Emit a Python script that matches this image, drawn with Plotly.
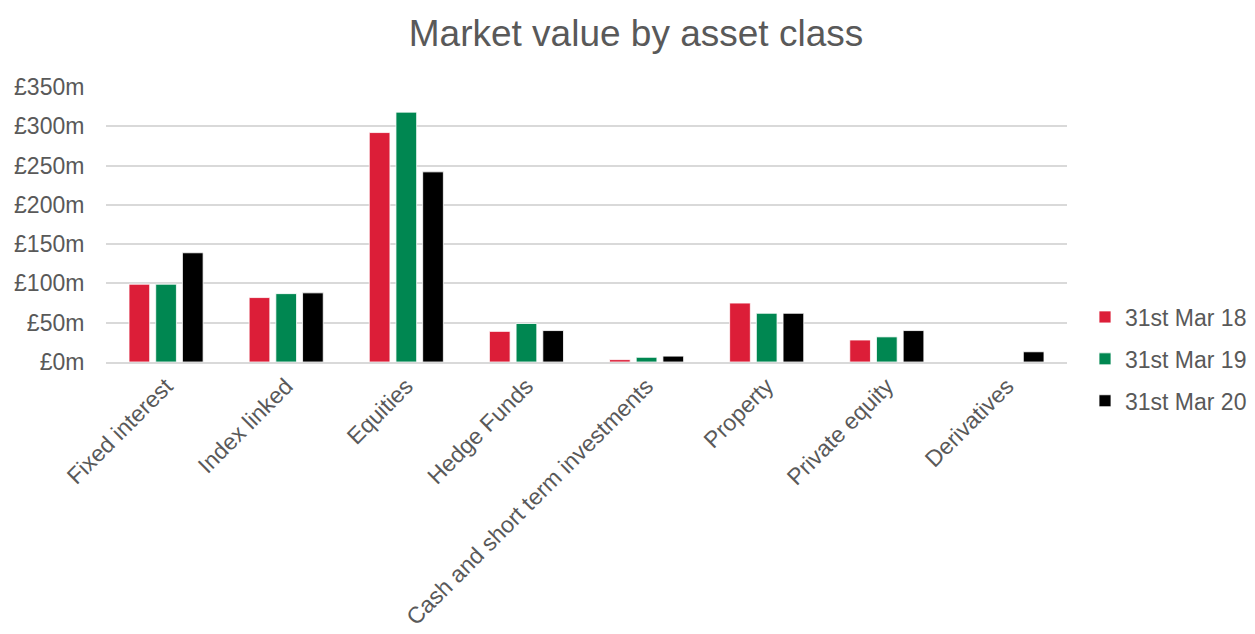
import plotly.graph_objects as go

categories = ["Fixed interest", "Index linked", "Equities", "Hedge Funds",
              "Cash and short term investments", "Property", "Private equity", "Derivatives"]
mar18 = [99, 82, 292, 39, 3, 75, 28, 0]
mar19 = [99, 87, 318, 49, 6, 62, 32, 0]
mar20 = [139, 88, 242, 40, 7.5, 62, 40, 13]
series_names = ["31st Mar 18", "31st Mar 19", "31st Mar 20"]
series_colors = ["#DC1E38", "#008751", "#000000"]
y_ticks = [0, 50, 100, 150, 200, 250, 300, 350]
y_tick_labels = ["£0m", "£50m", "£100m", "£150m", "£200m", "£250m", "£300m", "£350m"]

font_family = "Liberation Sans, Arial, sans-serif"
grey = "#595959"

W, H = 1247, 626  # page has an 8px body margin

fig = go.Figure()
for name, vals, col in zip(series_names, [mar18, mar19, mar20], series_colors):
    fig.add_trace(go.Bar(
        x=categories, y=vals, name=name, legendgroup=name,
        marker=dict(color=col, line=dict(color="white", width=0.8)),
    ))

fig.update_layout(
    width=W, height=H,
    margin=dict(l=98, r=188, t=79, b=272, autoexpand=False),
    paper_bgcolor="white", plot_bgcolor="white",
    barmode="group", bargap=0.333, bargroupgap=0.225,
    font=dict(family=font_family, color=grey, size=23),
    title=dict(text="Market value by asset class", x=628 / W, xref="container", xanchor="center",
               y=1 - 25 / H, yref="container", yanchor="middle",
               font=dict(size=37, color=grey, family=font_family)),
    legend=dict(x=1077 / W, xref="container", xanchor="left",
                y=1 - 351 / H, yref="container", yanchor="middle",
                font=dict(size=23, color=grey), traceorder="grouped", tracegroupgap=9,
                bgcolor="rgba(0,0,0,0)"),
    showlegend=True,
)
fig.update_xaxes(tickangle=-45, showgrid=False, showline=True, linecolor="#d9d9d9", linewidth=1.5,
                 ticks="", tickfont=dict(size=23, color=grey), automargin=False)
fig.update_yaxes(range=[0, 350], tickvals=y_ticks, ticktext=y_tick_labels,
                 showgrid=True, gridcolor="#d9d9d9", gridwidth=1.5, zeroline=False,
                 ticks="outside", ticklen=16, tickcolor="rgba(0,0,0,0)",
                 tickfont=dict(size=23, color=grey), automargin=False)

fig.write_html("out.html")
